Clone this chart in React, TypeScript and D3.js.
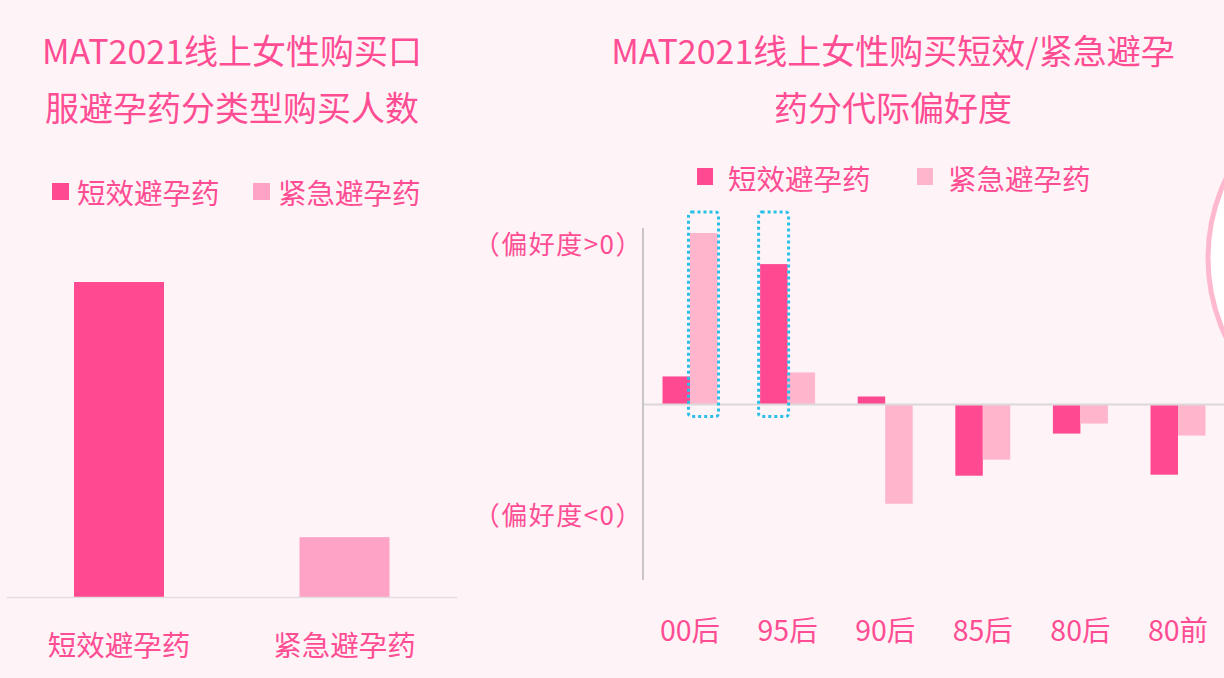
import React, { useRef, useLayoutEffect } from "react";
import * as d3 from "d3";

// left chart: buyers by pill type (relative index)
const typeCats = ["短效避孕药", "紧急避孕药"];
const typeValues = [100, 19];

// right chart: generational preference index
const genCats = ["00后", "95后", "90后", "85后", "80后", "80前"];
const shortPref = [2.8, 14.0, 0.8, -7.1, -2.9, -7.0];
const emergPref = [17.1, 3.2, -9.9, -5.5, -1.9, -3.1];
const highlighted = [
  { cat: "00后", series: "emerg" },
  { cat: "95后", series: "short" },
];

const W = 1224;
const H = 678;
const PINK = "#FF4A91";
const TEXT = "#FF4D94";
const FONT = "'Noto Sans CJK SC', 'Noto Sans', sans-serif";

export default function App() {
  const svgRef = useRef<SVGSVGElement | null>(null);

  useLayoutEffect(() => {
    const svg = svgRef.current;
    if (!svg) return;
    const sel = d3.select(svg);
    sel.selectAll("*").remove();

    sel.append("rect").attr("width", W).attr("height", H).attr("fill", "#FEF4F7");

    // decorative circle on the right edge
    sel
      .append("circle")
      .attr("cx", 1392)
      .attr("cy", 258)
      .attr("r", 184)
      .attr("fill", "#ffffff")
      .attr("stroke", "#FFB9CF")
      .attr("stroke-width", 5);

    const txt = (x: number, y: number, s: string, size: number, anchor = "middle") =>
      sel
        .append("text")
        .attr("x", x)
        .attr("y", y)
        .attr("text-anchor", anchor)
        .attr("dominant-baseline", "central")
        .attr("fill", TEXT)
        .attr("font-family", FONT)
        .attr("font-size", size)
        .text(s);

    // ---------- left chart ----------
    txt(232, 49, "MAT2021线上女性购买口", 34);
    txt(232, 106, "服避孕药分类型购买人数", 34);

    const leftColors = [PINK, "#FFA3C6"];
    const legL = [52, 253];
    typeCats.forEach((c, i) => {
      sel
        .append("rect")
        .attr("x", legL[i])
        .attr("y", 183)
        .attr("width", 17)
        .attr("height", 17)
        .attr("fill", leftColors[i]);
      txt(legL[i] + 25, 191, c, 28.5, "start");
    });

    const xl = d3.scalePoint<string>().domain(typeCats).range([119, 344.5]);
    const yl = d3.scaleLinear().domain([0, 100]).range([597, 282]);
    const lbw = 90;

    sel
      .append("g")
      .selectAll("rect")
      .data(typeCats)
      .enter()
      .append("rect")
      .attr("x", (d) => (xl(d) as number) - lbw / 2)
      .attr("y", (_, i) => yl(typeValues[i]))
      .attr("width", lbw)
      .attr("height", (_, i) => yl(0) - yl(typeValues[i]))
      .attr("fill", (_, i) => leftColors[i]);

    sel
      .append("line")
      .attr("x1", 7)
      .attr("x2", 457)
      .attr("y1", yl(0) + 0.5)
      .attr("y2", yl(0) + 0.5)
      .attr("stroke", "#E3DDE0")
      .attr("stroke-width", 1.5);

    typeCats.forEach((c) => txt(xl(c) as number, 643, c, 28.5));

    // ---------- right chart ----------
    txt(893, 49, "MAT2021线上女性购买短效/紧急避孕", 34);
    txt(893, 106, "药分代际偏好度", 34);

    const rightColors = [PINK, "#FFB6CD"];
    const legR = [697, 917];
    typeCats.forEach((c, i) => {
      sel
        .append("rect")
        .attr("x", legR[i])
        .attr("y", 168)
        .attr("width", 16)
        .attr("height", 17)
        .attr("fill", rightColors[i]);
      txt(legR[i] + 31, 177, c, 28.5, "start");
    });

    const xr = d3.scalePoint<string>().domain(genCats).range([690, 1178]);
    const xs = d3.scaleBand<string>().domain(["short", "emerg"]).range([-27.5, 27.5]);
    const yr = d3.scaleLinear().domain([-17.5, 17.6]).range([580, 228]);

    const series = [
      { key: "short", vals: shortPref, color: rightColors[0] },
      { key: "emerg", vals: emergPref, color: rightColors[1] },
    ];

    series.forEach((s) => {
      sel
        .append("g")
        .selectAll("rect")
        .data(genCats)
        .enter()
        .append("rect")
        .attr("x", (d) => (xr(d) as number) + (xs(s.key) as number))
        .attr("y", (_, i) => Math.min(yr(s.vals[i]), yr(0)))
        .attr("width", xs.bandwidth())
        .attr("height", (_, i) => Math.abs(yr(s.vals[i]) - yr(0)))
        .attr("fill", s.color);
    });

    // zero line + axis
    sel
      .append("line")
      .attr("x1", 643)
      .attr("x2", W)
      .attr("y1", yr(0))
      .attr("y2", yr(0))
      .attr("stroke", "#DCD8DA")
      .attr("stroke-width", 2);
    sel
      .append("line")
      .attr("x1", 643)
      .attr("x2", 643)
      .attr("y1", yr(17.6))
      .attr("y2", yr(-17.5))
      .attr("stroke", "#C8C6C7")
      .attr("stroke-width", 2);

    // dotted highlight boxes
    highlighted.forEach((h) => {
      const bx = (xr(h.cat) as number) + (xs(h.series) as number);
      sel
        .append("rect")
        .attr("x", bx - 1.5)
        .attr("y", yr(17.6) - 16)
        .attr("width", xs.bandwidth() + 2.5)
        .attr("height", yr(0) - yr(17.6) + 28)
        .attr("rx", 3)
        .attr("fill", "none")
        .attr("stroke", "#2BBFE8")
        .attr("stroke-width", 3)
        .attr("stroke-dasharray", "3 3");
    });

    txt(643, 242, "（偏好度>0）", 26, "end").attr("letter-spacing", 1.5);
    txt(643, 513, "（偏好度<0）", 26, "end").attr("letter-spacing", 1.5);

    genCats.forEach((c) => txt(xr(c) as number, 628, c, 28.5));
  }, []);

  return (
    <svg
      ref={svgRef}
      width={W}
      height={H}
      style={{ position: "absolute", left: 0, top: 0, display: "block" }}
    />
  );
}
